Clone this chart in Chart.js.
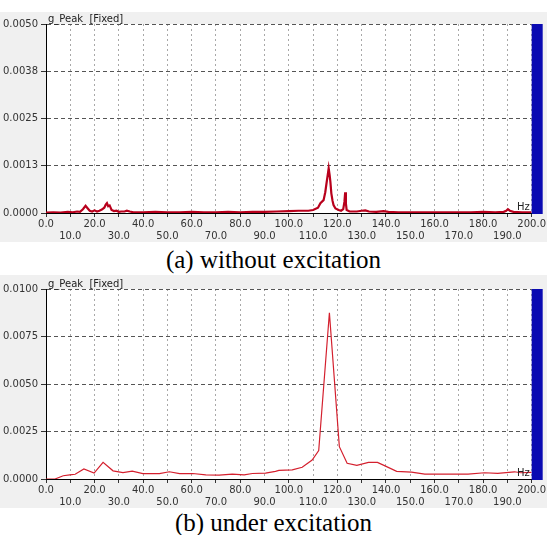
<!DOCTYPE html>
<html lang="en">
<head>
<meta charset="UTF-8">
<title>Spectrum</title>
<script src="https://cdn.jsdelivr.net/npm/chart.js"></script>
<style>
    body { margin: 0; width: 547px; height: 535px; background: #fff; position: relative; overflow: hidden; }
    canvas { position: absolute; left: 0; background: #f0f0f0; }
    #chartA { top: 12px; }
    #chartB { top: 275px; }
    .caption { position: absolute; left: 0; width: 547px; text-align: center; line-height: 28px;
        font-family: "Liberation Serif", "Times New Roman", serif; font-size: 25px; color: #000; }
    #capA { top: 246px; }
    #capB { top: 509px; }
</style>
</head>
<body>
<canvas id="chartA" width="547" height="230"></canvas>
<div class="caption" id="capA">(a) without excitation</div>
<canvas id="chartB" width="547" height="233"></canvas>
<div class="caption" id="capB">(b) under excitation</div>

<script>
// frequency axis ticks (Hz)
const xTicks = [0, 10, 20, 30, 40, 50, 60, 70, 80, 90, 100, 110, 120, 130, 140, 150, 160, 170, 180, 190, 200];

// (a) without excitation
const yTicksA = [0, 0.00125, 0.0025, 0.00375, 0.005];
const yLabelsA = ['0.0000', '0.0013', '0.0025', '0.0038', '0.0050'];
const freqA = [0, 3, 6, 9, 11, 12.8, 14, 15.2, 16.3, 17.2, 18, 19, 20, 21, 22, 23, 24, 24.6, 25.1, 25.6, 26.2, 27, 28, 29, 30,
    31, 32.3, 33.3, 34.5, 36, 40, 45, 50, 55, 60, 65, 70, 75, 80, 85, 90, 95, 100, 104, 108, 110, 112, 113, 114.3, 115,
    115.5, 116, 116.4, 116.8, 117.1, 117.5, 118, 118.4, 119.2, 120.5, 121.5, 122.4, 122.9, 123.2, 123.5, 123.8, 125, 128,
    130, 131.5, 133, 136, 139, 141, 145, 150, 155, 160, 165, 170, 175, 180, 185, 188.5, 189.5, 190.2, 191, 192.5, 196, 200];
const ampA = [0.00001, 0.00002, 0.00001, 0.00003, 0.00002, 0.00004, 0.00003, 0.0001, 0.00019, 0.00012, 0.00006, 0.00004,
    0.00007, 0.00004, 0.00006, 0.00009, 0.00014, 0.00022, 0.00026, 0.00018, 0.0002, 0.00008, 0.00005, 0.00006, 0.00003,
    0.00004, 0.00004, 0.00006, 0.00004, 0.00002, 0.00002, 0.00003, 0.00002, 0.00002, 0.00003, 0.00002, 0.00002, 0.00003,
    0.00002, 0.00003, 0.00003, 0.00004, 0.00005, 0.00006, 0.00006, 0.00008, 0.00014, 0.00026, 0.00034, 0.00055,
    0.00078, 0.001, 0.00118, 0.001, 0.00083, 0.00052, 0.00032, 0.00021, 0.00012, 0.00008, 0.00006, 0.0001, 0.0003,
    0.00055, 0.00025, 0.00008, 0.00004, 0.00004, 0.00006, 0.00007, 0.00004, 0.00003, 0.00005, 0.00003, 0.00002,
    0.00002, 0.00002, 0.00002, 0.00002, 0.00002, 0.00002, 0.00003, 0.00002, 0.00003, 0.00006, 0.0001, 0.00006, 0.00003,
    0.00002, 0.00002];

// (b) under excitation
const yTicksB = [0, 0.0025, 0.005, 0.0075, 0.01];
const yLabelsB = ['0.0000', '0.0025', '0.0050', '0.0075', '0.0100'];
const freqB = [0, 3.7, 7.1, 9.8, 12, 15.6, 19.8, 23.5, 27.6, 31.7, 35.5, 39.9, 46.7, 50.8, 55, 60.4, 65.8, 71.3, 76.7,
    81.6, 85, 90.4, 94.5, 95.9, 101.4, 105.5, 109.6, 112.3, 116.7, 120.8, 124, 128, 132.8, 136.5, 139.6, 144.4, 150.5,
    156, 162.8, 173.8, 180.6, 186, 192.9, 195.5, 200];
const ampB = [0, 0, 0.00017, 0.00022, 0.00025, 0.00053, 0.00031, 0.00088, 0.00043, 0.00034, 0.00041, 0.00028, 0.00028,
    0.00038, 0.00028, 0.00029, 0.00022, 0.0002, 0.00026, 0.00022, 0.00029, 0.00031, 0.0004, 0.00045, 0.00048, 0.00062,
    0.001, 0.0015, 0.00875, 0.0017, 0.00083, 0.00072, 0.00087, 0.00087, 0.00069, 0.0004, 0.00036, 0.00026, 0.00026,
    0.00026, 0.00033, 0.0003, 0.00038, 0.00033, 0.00035];

const tickFont = { family: 'DejaVu Sans', size: 10, lineHeight: 1.2 };

// white plot area, blue level bar, titles
const panelDeco = {
    id: 'panelDeco',
    beforeDraw(chart) {
        const { ctx, chartArea: { left, right, top, bottom } } = chart;
        ctx.save();
        ctx.fillStyle = '#ffffff';
        ctx.fillRect(left, top, right - left, bottom - top);
        ctx.restore();
    },
    afterDraw(chart) {
        const { ctx, chartArea: { left, right, top, bottom } } = chart;
        ctx.save();
        ctx.fillStyle = '#0a0ab2';
        ctx.fillRect(right, top, 11, bottom - top + 1);
        ctx.fillStyle = '#222';
        ctx.font = '10px "DejaVu Sans"';
        ctx.textAlign = 'left';
        ctx.textBaseline = 'bottom';
        ctx.fillText('g_Peak  [Fixed]', left + 2, top);
        ctx.textAlign = 'right';
        ctx.fillText('Hz', right - 2, bottom - 1);
        ctx.restore();
    }
};

function makeChart(id, freq, amp, yTicks, yLabels, lineColor, lineWidth, padTop) {
    const pts = freq.map((f, i) => ({ x: f, y: amp[i] }));
    return new Chart(document.getElementById(id), {
        type: 'line',
        data: {
            datasets: [{
                data: pts,
                borderColor: lineColor,
                borderWidth: lineWidth,
                pointRadius: 0,
                tension: 0,
                fill: false
            }]
        },
        options: {
            responsive: false,
            animation: false,
            devicePixelRatio: 1,
            layout: { padding: { top: padTop, right: 13, left: 0, bottom: 0 } },
            plugins: { legend: { display: false }, tooltip: { enabled: false } },
            scales: {
                x: {
                    type: 'linear',
                    min: 0,
                    max: 200,
                    afterBuildTicks: s => { s.ticks = xTicks.map(v => ({ value: v })); },
                    afterFit: s => { s.height = 29; },
                    ticks: {
                        autoSkip: false,
                        maxRotation: 0,
                        padding: 1,
                        color: '#333',
                        font: tickFont,
                        callback: (v) => (v % 20 === 0 ? v.toFixed(1) : ['', v.toFixed(1)])
                    },
                    grid: { color: '#a8a8a8', tickColor: '#333', tickLength: 4 },
                    border: { color: '#000', width: 1, dash: [2, 3] }
                },
                y: {
                    min: 0,
                    max: yTicks[yTicks.length - 1],
                    afterBuildTicks: s => { s.ticks = yTicks.map(v => ({ value: v })); },
                    afterFit: s => { s.width = 46; },
                    ticks: {
                        padding: 3,
                        color: '#333',
                        font: tickFont,
                        callback: (v, i) => yLabels[i]
                    },
                    grid: { color: '#555', tickColor: '#333', tickLength: 5 },
                    border: { color: '#000', width: 1, dash: [4, 3] }
                }
            }
        },
        plugins: [panelDeco]
    });
}

makeChart('chartA', freqA, ampA, yTicksA, yLabelsA, '#b8001c', 2.2, 12);
makeChart('chartB', freqB, ampB, yTicksB, yLabelsB, '#d4202e', 1.2, 14);
</script>
</body>
</html>
